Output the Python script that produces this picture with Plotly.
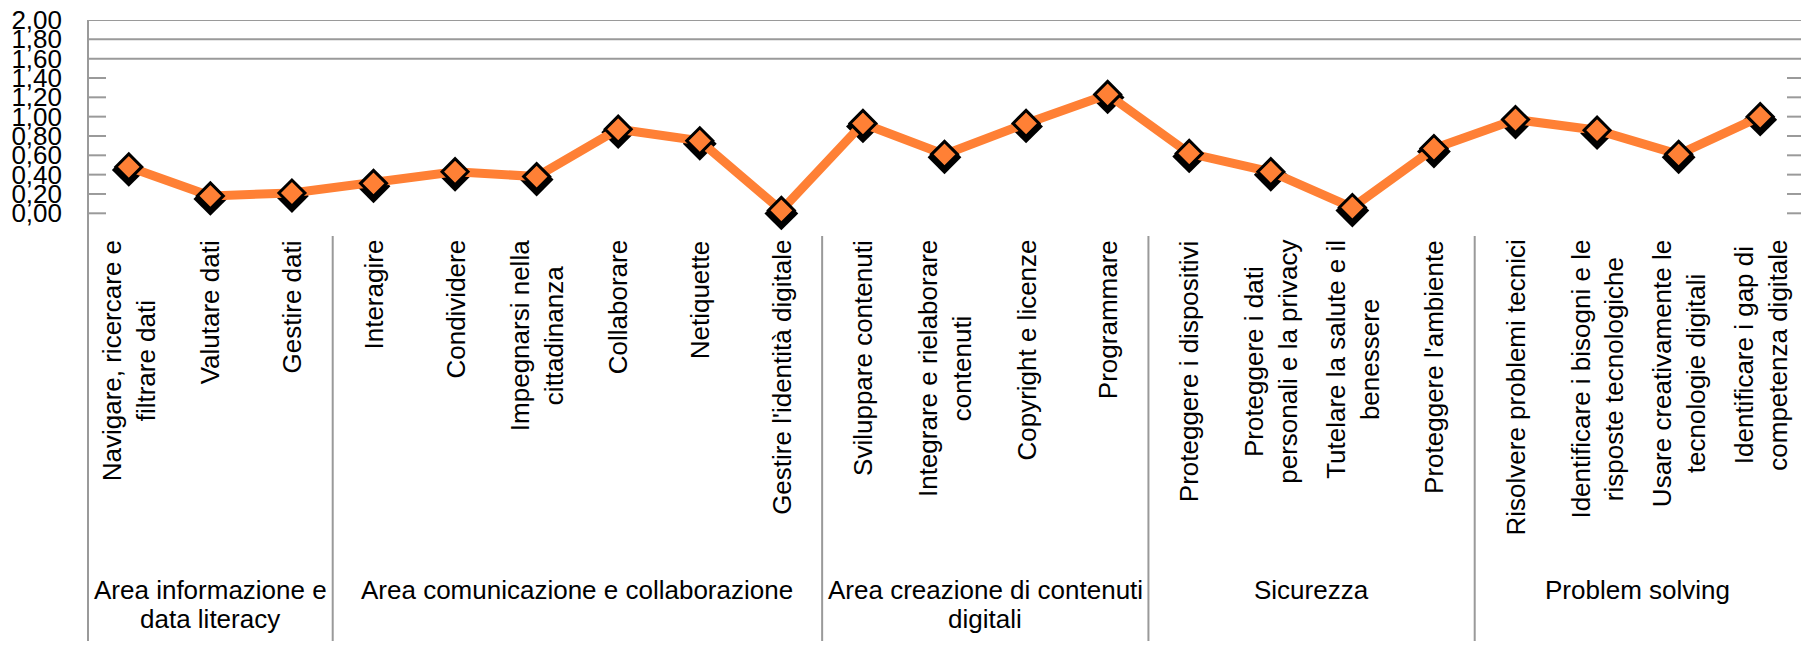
import plotly.graph_objects as go

# ---------------- data ----------------
skills = [
    "Navigare, ricercare e<br>filtrare dati",
    "Valutare dati",
    "Gestire dati",
    "Interagire",
    "Condividere",
    "Impegnarsi nella<br>cittadinanza",
    "Collaborare",
    "Netiquette",
    "Gestire l'identità digitale",
    "Sviluppare contenuti",
    "Integrare e rielaborare<br>contenuti",
    "Copyright e licenze",
    "Programmare",
    "Proteggere i dispositivi",
    "Proteggere i dati<br>personali e la privacy",
    "Tutelare la salute e il<br>benessere",
    "Proteggere l'ambiente",
    "Risolvere problemi tecnici",
    "Identificare i bisogni e le<br>risposte tecnologiche",
    "Usare creativamente le<br>tecnologie digitali",
    "Identificare i gap di<br>competenza digitale",
]
scores = [0.48, 0.18, 0.21, 0.31, 0.43, 0.38, 0.87, 0.75, 0.03,
          0.93, 0.61, 0.93, 1.23,
          0.62, 0.43, 0.06, 0.67,
          0.97, 0.86, 0.61, 1.00]
areas = [
    "Area informazione e<br>data literacy",
    "Area comunicazione e collaborazione",
    "Area creazione di contenuti<br>digitali",
    "Sicurezza",
    "Problem solving",
]
area_sizes = [3, 6, 4, 4, 4]
y_ticks = [0.0, 0.2, 0.4, 0.6, 0.8, 1.0, 1.2, 1.4, 1.6, 1.8, 2.0]

# ---------------- layout geometry ----------------
W, H = 1801, 648
ML, MR, MT, MB = 88, 0, 20, 7
PX_PER_UNIT = 96.65
Y_TOP = 2.0
plot_h = H - MT - MB
Y_BOT = Y_TOP - plot_h / PX_PER_UNIT
FS = 26
H_PITCH = 29.0            # line pitch of the group labels


def px_to_y(py):
    """convert a pixel row (from top of figure) to data y"""
    return Y_TOP - (py - MT) / PX_PER_UNIT


FONT = "Liberation Sans, Arial, Helvetica, sans-serif"
GRID = "#9a9a9a"
ORANGE = "#FF8035"

idx = list(range(len(skills)))
shadow_shift = 3 / PX_PER_UNIT

fig = go.Figure()
# shadow of markers (overlay axis y2, shifted a few px down)
fig.add_trace(go.Scatter(
    x=idx, y=scores, yaxis="y2", mode="markers",
    marker=dict(symbol="diamond", size=26, color="black"),
    hoverinfo="skip", showlegend=False, cliponaxis=False,
))
# main series (overlay axis y3, same scale as y)
fig.add_trace(go.Scatter(
    x=idx, y=scores, yaxis="y3", mode="lines+markers",
    line=dict(color=ORANGE, width=9),
    marker=dict(symbol="diamond", size=20, color=ORANGE,
                line=dict(color="black", width=3)),
    showlegend=False, cliponaxis=False,
))

shapes = []
for v in y_ticks:
    if v >= 1.6 - 1e-9:
        shapes.append(dict(type="line", xref="paper", yref="y", x0=0, x1=1,
                           y0=v, y1=v, line=dict(color=GRID, width=2)))
    else:
        shapes.append(dict(type="line", xref="paper", yref="y", x0=0,
                           x1=18 / (W - ML - MR), y0=v, y1=v,
                           line=dict(color=GRID, width=2)))
        shapes.append(dict(type="line", xref="paper", yref="y",
                           x0=1 - 14 / (W - ML - MR), x1=1, y0=v, y1=v,
                           line=dict(color=GRID, width=2)))
shapes.append(dict(type="line", xref="paper", yref="y", x0=0, x1=0,
                   y0=Y_BOT, y1=Y_TOP, line=dict(color=GRID, width=2)))
sep_top = px_to_y(236)
pos = 0
centers = []
for n in area_sizes:
    centers.append(pos + (n - 1) / 2)
    pos += n
    if pos < len(skills):
        shapes.append(dict(type="line", xref="x", yref="y",
                           x0=pos - 0.5, x1=pos - 0.5, y0=Y_BOT, y1=sep_top,
                           line=dict(color=GRID, width=2)))

annotations = []
lab_top = px_to_y(238)
for i, s in enumerate(skills):
    annotations.append(dict(
        x=i, y=lab_top, xref="x", yref="y", text=s, showarrow=False,
        textangle=-90, yanchor="top", xanchor="center", align="center",
        font=dict(family=FONT, size=FS, color="black")))
for c, a in zip(centers, areas):
    for k, line in enumerate(a.split("<br>")):
        annotations.append(dict(
            x=c, y=px_to_y(573 + k * H_PITCH), xref="x", yref="y",
            text=line, showarrow=False, yanchor="top", xanchor="center",
            font=dict(family=FONT, size=FS, color="black")))

fig.update_layout(
    width=W, height=H,
    margin=dict(l=ML, r=MR, t=MT, b=MB),
    paper_bgcolor="white", plot_bgcolor="white",
    separators=",.",
    xaxis=dict(range=[-0.5, len(skills) - 0.5], showticklabels=False,
               showgrid=False, zeroline=False, showline=False, ticks=""),
    yaxis=dict(range=[Y_BOT, Y_TOP], tickvals=y_ticks, tickformat=".2f",
               showgrid=False, zeroline=False, showline=False, ticks="",
               ticklabelstandoff=25,
               tickfont=dict(family=FONT, size=FS, color="black")),
    yaxis2=dict(range=[Y_BOT + shadow_shift, Y_TOP + shadow_shift],
                overlaying="y", visible=False),
    yaxis3=dict(range=[Y_BOT, Y_TOP], overlaying="y", visible=False),
    shapes=shapes, annotations=annotations,
    font=dict(family=FONT),
)

fig.write_html(
    "out.html",
    config={"displayModeBar": False},
    post_script="document.body.style.margin='0';"
                "document.body.style.overflow='hidden';",
)
